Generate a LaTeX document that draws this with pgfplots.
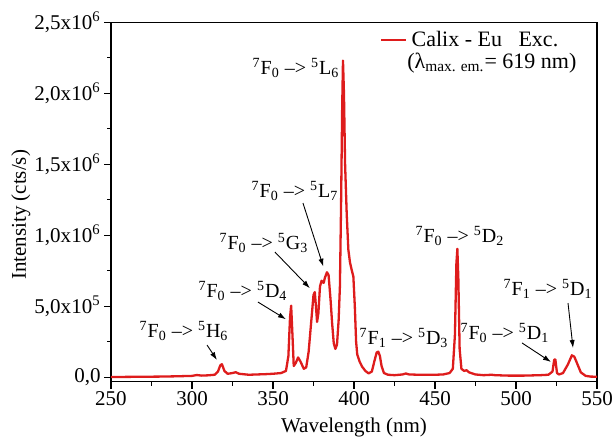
\documentclass[border=0pt]{standalone}
\usepackage{fontspec}
\setmainfont{Liberation Serif}
\usepackage{pgfplots}
\pgfplotsset{compat=1.18}
\usetikzlibrary{arrows.meta}
\definecolor{specred}{RGB}{222,28,28}
\newcommand{\tr}[3]{\textsuperscript{7}F\textsubscript{#1} –> \textsuperscript{5}#2\textsubscript{#3}}
\pgfplotstableread{
x y
250 2000
260 3000
270 4000
280 5000
290 7000
300 10000
303 16000
306 12000
310 14000
314 18000
316 40000
317.5 85000
318.5 92000
320 45000
322 25000
325 30000
327 36000
329 25000
335 18000
340 20000
345 22000
350 25000
355 30000
358 45000
359.5 150000
360.5 420000
361.2 505000
362 300000
362.8 80000
364 100000
365.5 140000
367 110000
369 60000
370.5 70000
372 180000
373.5 380000
375 580000
375.8 600000
376.5 500000
377.2 390000
378 450000
379 640000
380 680000
381.3 665000
382 700000
383.3 740000
384.3 720000
385.5 550000
386.5 380000
387.5 240000
388.5 200000
389.5 230000
390.5 400000
391.3 640000
392 1200000
392.7 1900000
393.2 2230000
393.8 2000000
394.5 1500000
395.5 1150000
396.5 900000
397.5 810000
398.5 760000
399.6 710000
400.5 500000
401.3 250000
402 160000
403.5 110000
405 75000
407 45000
409 28000
411 40000
412.5 110000
414 175000
415 180000
416 150000
417 80000
418.5 30000
421 18000
425 15000
430 20000
432 27000
434 20000
440 18000
450 18000
455 20000
459 30000
461 60000
462.3 300000
463.2 800000
463.8 905000
464.4 700000
465.2 200000
466.3 60000
468 45000
469.5 50000
471 35000
475 20000
480 15000
485 18000
487 15000
495 12000
505 12000
515 15000
520 18000
522.5 40000
523.6 125000
524.3 125000
525.3 30000
526.5 20000
529 30000
532 90000
534.5 155000
536 145000
538 90000
540 35000
543 10000
546 5000
550 4000
}\spectrum
\begin{document}
\begin{tikzpicture}
\useasboundingbox (-55.5pt,-29.15pt) rectangle (251pt,190.85pt);
\begin{axis}[
  at={(0,0)}, anchor=south west,
  scale only axis, width=243pt, height=179.7pt,
  xmin=250, xmax=550, ymin=-31000, ymax=2500000,
  axis line style={line width=0.6pt},
  every tick/.style={line width=0.6pt, black},
  tick align=outside, tick pos=left,
  major tick length=3.5pt, minor tick length=2pt,
  xtick={250,300,...,550}, minor x tick num=1,
  ytick={0,500000,1000000,1500000,2000000,2500000}, minor y tick num=1,
  yticklabels={{0,0},{5,0x10\textsuperscript{5}},{1,0x10\textsuperscript{6}},{1,5x10\textsuperscript{6}},{2,0x10\textsuperscript{6}},{2,5x10\textsuperscript{6}}},
  scaled y ticks=false,
  /pgf/number format/assume math mode=true,
  ticklabel style={font=\fontsize{10.5}{12}\selectfont},
  xticklabel style={inner sep=1pt},
  yticklabel style={inner sep=1.5pt},
  xlabel={Wavelength (nm)}, ylabel={Intensity (cts/s)},
  label style={font=\fontsize{10.5}{12}\selectfont},
  xlabel style={at={([yshift=-25.5pt]rel axis cs:0.5,0)}, anchor=base},
  ylabel style={at={([xshift=-42.5pt]rel axis cs:0,0.464)}, anchor=base},
  legend style={draw=none, fill=none, at={(axis cs:416,2375000)}, anchor=west,
    inner xsep=0pt, inner ysep=0pt, font=\fontsize{11}{13}\selectfont},
  legend image code/.code={\draw[#1] (0pt,0pt) -- (12.5pt,0pt);},
  clip=false,
]
\addplot[specred, line width=1.15pt, line join=round] table[x=x,y=y] {\spectrum};
\addlegendentry{Calix - Eu\ \ \ Exc.}
\node[anchor=west, inner sep=0pt, font=\fontsize{11}{13}\selectfont] at (axis cs:432.7,2213000) {(λ\textsubscript{max. em.}= 619 nm)};
\begin{scope}[every node/.style={inner sep=0pt, font=\fontsize{10}{12}\selectfont}]
\node at (axis cs:364.2,2178000) {\tr{0}{L}{6}};
\node at (axis cs:363.6,1312000) {\tr{0}{L}{7}};
\node at (axis cs:344.4,944000) {\tr{0}{G}{3}};
\node at (axis cs:331.5,607000) {\tr{0}{D}{4}};
\node at (axis cs:295.1,326000) {\tr{0}{H}{6}};
\node at (axis cs:430.9,277000) {\tr{1}{D}{3}};
\node at (axis cs:465.4,994000) {\tr{0}{D}{2}};
\node at (axis cs:493.2,312000) {\tr{0}{D}{1}};
\node at (axis cs:519.8,621000) {\tr{1}{D}{1}};
\end{scope}
\begin{scope}[line width=0.45pt, -{Latex[length=4pt,width=2.6pt]}]
\draw (axis cs:368.5,1227000) -- (axis cs:381.1,779000);
\draw (axis cs:351.2,882000) -- (axis cs:372.8,627000);
\draw (axis cs:340.7,530000) -- (axis cs:358.0,409000);
\draw (axis cs:309.3,227000) -- (axis cs:315.4,122000);
\draw (axis cs:503.7,242000) -- (axis cs:521.6,108000);
\draw (axis cs:532.1,523000) -- (axis cs:535.2,206000);
\end{scope}
\end{axis}
\end{tikzpicture}
\end{document}
